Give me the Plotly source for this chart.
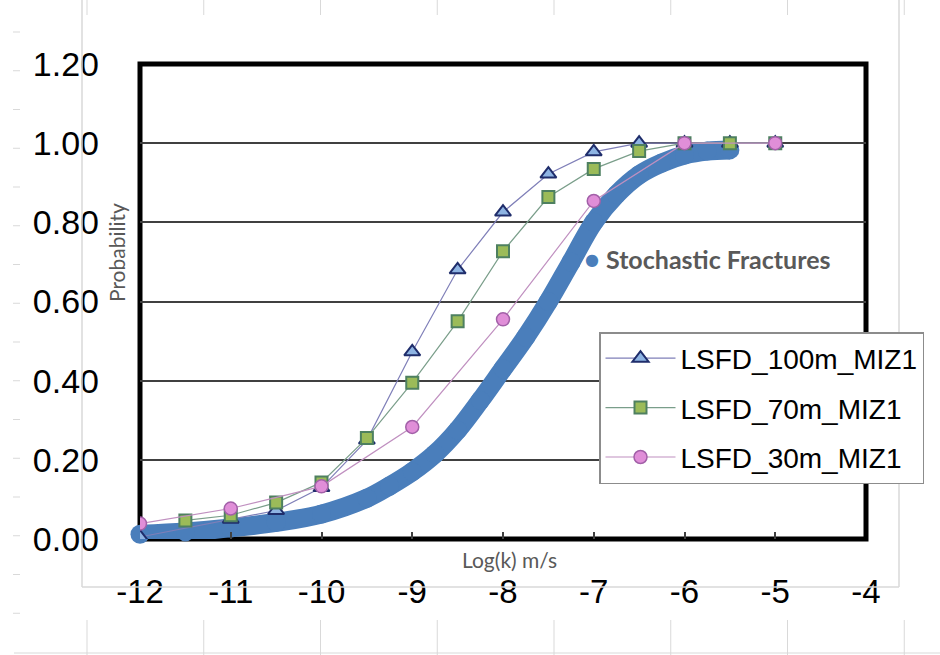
import plotly.graph_objects as go

# ---- data -------------------------------------------------------------
log_k_100m = [-12.0, -11.0, -10.5, -10.0, -9.5, -9.0, -8.5, -8.0,
              -7.5, -7.0, -6.5, -6.0, -5.5, -5.0]
p_100m = [0.005, 0.05, 0.072, 0.13, 0.25, 0.473, 0.68, 0.826,
          0.922, 0.978, 1.0, 1.0, 1.0, 1.0]

log_k_70m = [-11.5, -11.0, -10.5, -10.0, -9.5, -9.0, -8.5, -8.0,
             -7.5, -7.0, -6.5, -6.0, -5.5, -5.0]
p_70m = [0.047, 0.06, 0.092, 0.143, 0.255, 0.395, 0.55, 0.727,
         0.864, 0.935, 0.98, 1.0, 1.0, 1.0]

log_k_30m = [-12, -11, -10, -9, -8, -7, -6, -5]
p_30m = [0.039, 0.077, 0.133, 0.283, 0.555, 0.854, 1.0, 1.0]

sf_log_k = [-12.0, -11.5, -11.0, -10.5, -10.0, -9.5, -9.25, -9.0, -8.75,
            -8.5, -8.25, -8.0, -7.75, -7.5, -7.25, -7.0, -6.75, -6.5,
            -6.25, -6.0, -5.75, -5.5]
sf_prob = [0.012, 0.018, 0.028, 0.042, 0.063, 0.103, 0.134, 0.17, 0.215,
           0.275, 0.35, 0.43, 0.51, 0.60, 0.70, 0.80, 0.87, 0.92,
           0.95, 0.97, 0.98, 0.983]

x_ticks = [-12, -11, -10, -9, -8, -7, -6, -5, -4]
x_tick_text = [str(v) for v in x_ticks]
y_ticks = [0.0, 0.2, 0.4, 0.6, 0.8, 1.0, 1.2]
y_tick_text = [f"{v:.2f}" for v in y_ticks]

# ---- page geometry (pixels) -------------------------------------------
W_PX, H_PX = 940, 655
M_L, M_R, M_T, M_B = 140, 74, 64, 116
PW = W_PX - M_L - M_R
PH = H_PX - M_T - M_B


def px(x):
    return (x - M_L) / PW


def py(y):
    return (H_PX - M_B - y) / PH


fig = go.Figure()

# stochastic fracture curve (thick band of dots)
fig.add_trace(go.Scatter(
    x=sf_log_k, y=sf_prob, mode="lines+markers", name="Stochastic Fractures",
    line=dict(color="#4A7EBB", width=19, shape="spline", smoothing=1.0),
    marker=dict(color="#4A7EBB", size=19, line=dict(width=0)),
    cliponaxis=False, showlegend=False, hoverinfo="x+y",
))

fig.add_trace(go.Scatter(
    x=log_k_100m, y=p_100m, mode="lines+markers", name="LSFD_100m_MIZ1",
    line=dict(color="#7F7FB8", width=1.2),
    marker=dict(symbol="triangle-up", size=14, color="#8EB4E3",
                line=dict(color="#1F2D6B", width=2)),
    legendgroup="a",
))
fig.add_trace(go.Scatter(
    x=log_k_70m, y=p_70m, mode="lines+markers", name="LSFD_70m_MIZ1",
    line=dict(color="#7A9E8A", width=1.2),
    marker=dict(symbol="square", size=12, color="#9BBB59",
                line=dict(color="#4E8060", width=2)),
    legendgroup="b",
))
fig.add_trace(go.Scatter(
    x=log_k_30m, y=p_30m, mode="lines+markers", name="LSFD_30m_MIZ1",
    line=dict(color="#C090C0", width=1.2),
    marker=dict(symbol="circle", size=13, color="#E08ED8",
                line=dict(color="#A260A8", width=1.5)),
    legendgroup="c",
))

shapes = []
grey = "#D9D9D9"
# spreadsheet cell lines around the chart object
for k in range(8):
    xc = 87 + 116.75 * k
    shapes.append(dict(type="line", xref="paper", yref="paper",
                       x0=px(xc), x1=px(xc), y0=py(0), y1=py(15),
                       line=dict(color=grey, width=1)))
    shapes.append(dict(type="line", xref="paper", yref="paper",
                       x0=px(xc), x1=px(xc), y0=py(620), y1=py(655),
                       line=dict(color=grey, width=1)))
shapes.append(dict(type="line", xref="paper", yref="paper",
                   x0=px(14), x1=px(940), y0=py(653), y1=py(653),
                   line=dict(color=grey, width=1)))
for k in range(16):
    yc = 32 + 38.75 * k
    shapes.append(dict(type="line", xref="paper", yref="paper",
                       x0=px(13), x1=px(20), y0=py(yc), y1=py(yc),
                       line=dict(color=grey, width=1)))
# chart-area border
shapes.append(dict(type="line", xref="paper", yref="paper",
                   x0=px(82), x1=px(82), y0=py(0), y1=py(587),
                   line=dict(color=grey, width=1.5)))
shapes.append(dict(type="line", xref="paper", yref="paper",
                   x0=px(899), x1=px(899), y0=py(0), y1=py(587),
                   line=dict(color=grey, width=1.5)))
shapes.append(dict(type="line", xref="paper", yref="paper",
                   x0=px(82), x1=px(899), y0=py(587), y1=py(587),
                   line=dict(color=grey, width=1.5)))
# plot-area frame
shapes.append(dict(type="rect", xref="paper", yref="paper",
                   x0=0, x1=1, y0=0, y1=1, layer="below",
                   line=dict(color="black", width=5)))

annotations = [
    dict(text="Log(k) m/s", xref="paper", yref="paper", x=px(509), y=py(559),
         showarrow=False, xanchor="center", yanchor="middle",
         font=dict(family="Lato", size=21, color="#595959")),
    dict(text="Probability", xref="paper", yref="paper", x=px(116), y=py(253),
         showarrow=False, xanchor="center", yanchor="middle", textangle=-90,
         font=dict(family="Lato", size=21, color="#595959")),
    dict(text="●", xref="paper", yref="paper", x=px(592), y=py(259),
         showarrow=False, xanchor="center", yanchor="middle",
         font=dict(family="DejaVu Sans", size=16, color="#4A7EBB")),
    dict(text="<b>Stochastic Fractures</b>", xref="paper", yref="paper",
         x=px(604), y=py(259), showarrow=False, xanchor="left",
         yanchor="middle",
         font=dict(family="Lato", size=25, color="#595959")),
]

fig.update_layout(
    width=W_PX, height=H_PX,
    margin=dict(l=M_L, r=M_R, t=M_T, b=M_B, pad=0),
    paper_bgcolor="white", plot_bgcolor="white",
    shapes=shapes, annotations=annotations,
    showlegend=True,
    legend=dict(
        x=px(599), y=py(332), xanchor="left", yanchor="top",
        bgcolor="white", bordercolor="#8C8C8C", borderwidth=1.5,
        font=dict(family="Liberation Sans", size=28, color="black"),
        traceorder="grouped", tracegroupgap=10, itemwidth=70,
    ),
    xaxis=dict(
        range=[-12, -4], tickvals=x_ticks, ticktext=x_tick_text,
        ticks="inside", ticklen=7,
        tickcolor="#404040", tickwidth=1.5, showgrid=False, zeroline=False,
        showline=False, ticklabelstandoff=30,
        tickfont=dict(family="Liberation Sans", size=33, color="black"),
    ),
    yaxis=dict(
        range=[0, 1.2], tickvals=y_ticks, ticktext=y_tick_text, ticks="",
        showgrid=True, gridcolor="#404040", gridwidth=1.5, zeroline=False,
        showline=False, ticklabelstandoff=40,
        tickfont=dict(family="Liberation Sans", size=34, color="black"),
    ),
)

fig.write_html("out.html")
